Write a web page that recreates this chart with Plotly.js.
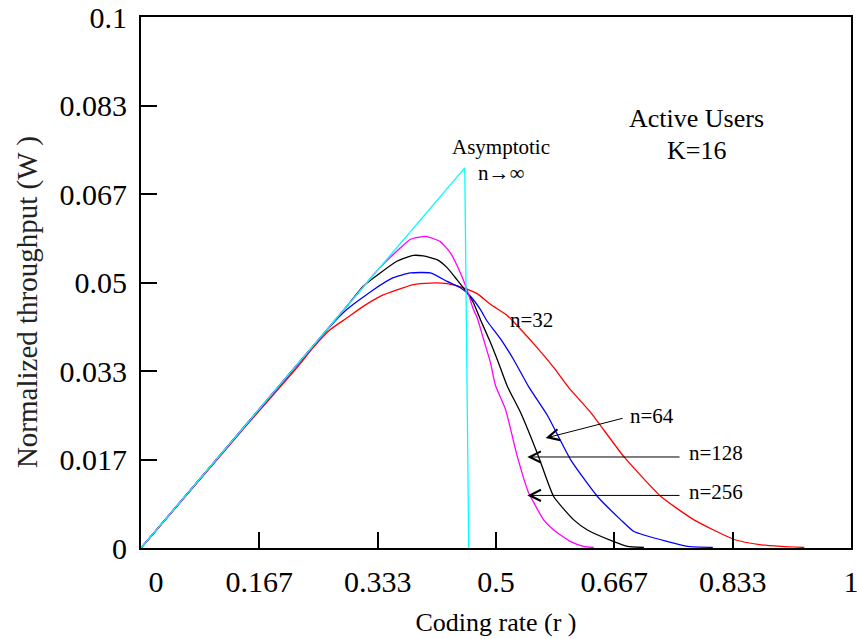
<!DOCTYPE html>
<html>
<head>
<meta charset="utf-8">
<script src="https://cdn.plot.ly/plotly-3.0.1.min.js"></script>
<style>html,body{margin:0;padding:0;background:#fff}#chart{width:857px;height:639px}</style>
</head>
<body>
<div id="chart"></div>
<script>
// Tick positions and labels
const xTickVals = [0, 1/6, 2/6, 3/6, 4/6, 5/6, 1];
const xTickText = ['\u00a0\u00a0\u00a0\u00a00', '0.167', '0.333', '0.5', '0.667', '0.833', '1'];
const yTickVals = [0, 1/60, 2/60, 3/60, 4/60, 5/60, 6/60];
const yTickText = ['0', '0.017', '0.033', '0.05', '0.067', '0.083', '0.1'];

// Asymptotic n -> infinity
const xInf = [0, 0.1, 0.2, 0.3, 0.4, 0.456, 0.4616];
const yInf = [0, 0.0157, 0.0314, 0.0471, 0.0628, 0.0716, 0];

// n = 256
const x256 = [0, 0.1, 0.2, 0.3, 0.3322, 0.3651, 0.3792, 0.4004, 0.4216, 0.4357, 0.4499, 0.4593, 0.4682, 0.4734, 0.4823, 0.4922, 0.4993, 0.5134, 0.5299, 0.5459, 0.5530, 0.5671, 0.5812, 0.6052, 0.6236, 0.6377];
const y256 = [0, 0.0157, 0.0314, 0.0471, 0.0522, 0.0565, 0.0581, 0.0587, 0.0577, 0.0556, 0.0518, 0.0486, 0.0449, 0.0434, 0.0394, 0.0349, 0.0306, 0.0261, 0.0173, 0.0104, 0.0086, 0.0053, 0.0034, 0.0012, 0.0003, 0.0001];

// n = 128
const x128 = [0, 0.1, 0.2, 0.2898, 0.3129, 0.3369, 0.3605, 0.3835, 0.3976, 0.4169, 0.4311, 0.4452, 0.4593, 0.4682, 0.4781, 0.4922, 0.5035, 0.5158, 0.5346, 0.5600, 0.5812, 0.6095, 0.6288, 0.6660, 0.6853, 0.7083];
const y128 = [0, 0.0157, 0.0314, 0.0455, 0.0493, 0.0518, 0.0540, 0.0551, 0.0550, 0.0543, 0.0528, 0.0505, 0.0481, 0.0462, 0.0430, 0.0387, 0.0349, 0.0305, 0.0255, 0.0172, 0.0097, 0.0053, 0.0034, 0.0012, 0.0003, 0.0001];

// n = 64
const x64 = [0, 0.1, 0.2, 0.2662, 0.2898, 0.3270, 0.3552, 0.3792, 0.4075, 0.4311, 0.4499, 0.4640, 0.4781, 0.4876, 0.5064, 0.5247, 0.5459, 0.5723, 0.6052, 0.6429, 0.6758, 0.6942, 0.7418, 0.7701, 0.8054];
const y64 = [0, 0.0157, 0.0313, 0.0417, 0.0449, 0.0486, 0.0509, 0.0518, 0.0518, 0.0502, 0.0490, 0.0474, 0.0449, 0.0427, 0.0394, 0.0355, 0.0304, 0.0250, 0.0166, 0.0097, 0.0053, 0.0031, 0.0012, 0.0003, 0.0001];

// n = 32
const x32 = [0, 0.1, 0.1434, 0.2192, 0.2422, 0.2662, 0.2898, 0.3129, 0.3369, 0.3605, 0.3835, 0.4075, 0.4311, 0.4541, 0.4734, 0.4922, 0.5158, 0.5346, 0.5582, 0.5812, 0.6024, 0.6335, 0.6801, 0.7323, 0.7789, 0.8355, 0.8736, 0.9018, 0.9343];
const y32 = [0, 0.0155, 0.0223, 0.0339, 0.0377, 0.0411, 0.0433, 0.0455, 0.0474, 0.0486, 0.0496, 0.0499, 0.0498, 0.0490, 0.0479, 0.0459, 0.0438, 0.0412, 0.0377, 0.0340, 0.0302, 0.0255, 0.0172, 0.0097, 0.0053, 0.0016, 0.0006, 0.0003, 0.0001];

const lw = 1.3;
const sm = {shape: 'spline', smoothing: 0.5};
const traces = [
  {x: x32, y: y32, name: 'n=32', mode: 'lines', line: Object.assign({color: '#ff0000', width: lw}, sm)},
  {x: x64, y: y64, name: 'n=64', mode: 'lines', line: Object.assign({color: '#0000ff', width: lw}, sm)},
  {x: x128, y: y128, name: 'n=128', mode: 'lines', line: Object.assign({color: '#000000', width: lw}, sm)},
  {x: x256, y: y256, name: 'n=256', mode: 'lines', line: Object.assign({color: '#ff00ff', width: lw}, sm)},
  {x: xInf, y: yInf, name: 'Asymptotic', mode: 'lines', line: {color: '#00ffff', width: lw}}
];

const serif = '"Liberation Serif", "Times New Roman", serif';
const txt = (x, y, text, size) => ({x: x, y: y, xref: 'x', yref: 'y', text: text, showarrow: false,
  font: {family: serif, size: size, color: '#000'}, xanchor: 'center', yanchor: 'middle'});
const arrow = (x, y, ax, ay) => ({x: x, y: y, ax: ax, ay: ay, xref: 'x', yref: 'y', axref: 'x', ayref: 'y',
  text: '', showarrow: true, arrowhead: 5, arrowsize: 2.2, arrowwidth: 1, arrowcolor: '#000'});

const layout = {
  width: 857, height: 639,
  margin: {l: 141, r: 6, t: 17, b: 91},
  paper_bgcolor: '#fff', plot_bgcolor: '#fff',
  showlegend: false,
  font: {family: serif, color: '#000'},
  xaxis: {
    range: [0, 1], tickvals: xTickVals, ticktext: xTickText,
    ticks: 'inside', ticklen: 16, tickwidth: 2, tickcolor: '#000',
    showline: true, linewidth: 2, linecolor: '#000', mirror: true,
    showgrid: false, zeroline: false, ticklabeloverflow: 'allow', ticklabelstandoff: 6,
    tickfont: {family: serif, size: 30, color: '#000'},
    title: {text: 'Coding rate (r )', font: {family: serif, size: 26, color: '#000'}, standoff: 16}
  },
  yaxis: {
    range: [0, 0.1], tickvals: yTickVals, ticktext: yTickText,
    ticks: 'inside', ticklen: 16, tickwidth: 2, tickcolor: '#000',
    showline: true, linewidth: 2, linecolor: '#000', mirror: true,
    showgrid: false, zeroline: false, ticklabeloverflow: 'allow', ticklabelstandoff: 6,
    tickfont: {family: serif, size: 30, color: '#000'}
  },
  annotations: [
    {xref: 'paper', yref: 'paper', x: -0.1606, y: 0.463, textangle: -90, showarrow: false,
     text: 'Normalized throughput (W )', xanchor: 'center', yanchor: 'middle',
     font: {family: serif, size: 29, color: '#222'}},
    txt(0.5064, 0.0756, 'Asymptotic', 21),
    txt(0.5078, 0.0707, 'n\u2192\u221e', 21),
    txt(0.7818, 0.0809, 'Active Users', 26),
    txt(0.7818, 0.0749, 'K=16', 26),
    txt(0.5501, 0.0430, 'n=32', 21),
    txt(0.7203, 0.0249, 'n=64', 21),
    txt(0.8100, 0.0178, 'n=128', 21),
    txt(0.8100, 0.0105, 'n=256', 21),
    arrow(0.5699, 0.0207, 0.6805, 0.0245),
    arrow(0.5441, 0.01714, 0.7606, 0.01714),
    arrow(0.5441, 0.0099, 0.7606, 0.0099)
  ]
};

Plotly.newPlot('chart', traces, layout, {displayModeBar: false, staticPlot: true});
</script>
</body>
</html>
